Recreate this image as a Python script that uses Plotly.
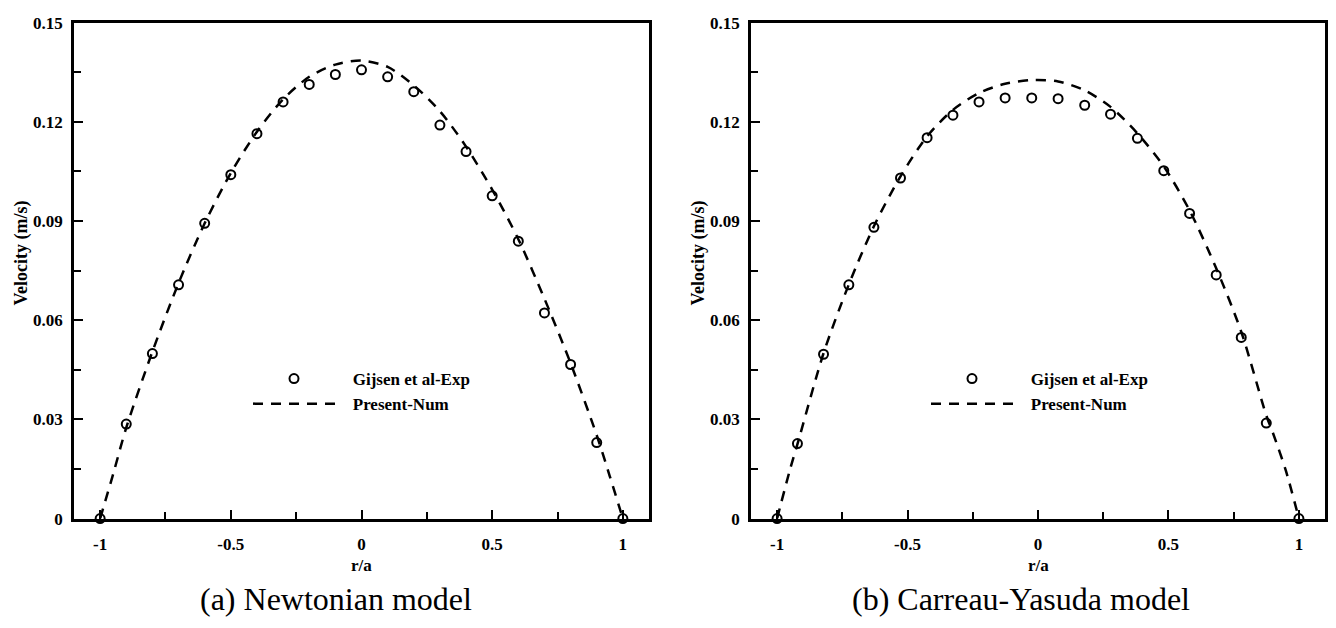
import plotly.graph_objects as go

# ---------------- data ----------------
# (a) Newtonian model
exp_a_r = [-1.0, -0.9, -0.8, -0.7, -0.6, -0.5, -0.4, -0.3, -0.2, -0.1, 0.0,
           0.1, 0.2, 0.3, 0.4, 0.5, 0.6, 0.7, 0.8, 0.9, 1.0]
exp_a_v = [0.0, 0.0286, 0.0499, 0.0707, 0.0893, 0.1040, 0.1164, 0.1260, 0.1313, 0.1343, 0.1357,
           0.1336, 0.1291, 0.1190, 0.1110, 0.0976, 0.0839, 0.0622, 0.0466, 0.0230, 0.0]
num_a_r = [-1.0, -0.95, -0.9, -0.8, -0.7, -0.6, -0.5, -0.4, -0.3, -0.2, -0.1, 0.0,
           0.1, 0.2, 0.3, 0.4, 0.5, 0.6, 0.7, 0.8, 0.9, 0.95, 1.0]
num_a_v = [0.0, 0.0135, 0.0275, 0.0505, 0.0712, 0.0893, 0.1045, 0.1170, 0.1268, 0.1336, 0.1373, 0.1385,
           0.1366, 0.1310, 0.1232, 0.1125, 0.0995, 0.0845, 0.0665, 0.0470, 0.0252, 0.0128, 0.0]

# (b) Carreau-Yasuda model
exp_b_r = [-1.0, -0.922, -0.822, -0.725, -0.629, -0.527, -0.425, -0.326, -0.226, -0.126, -0.024,
           0.077, 0.179, 0.278, 0.381, 0.482, 0.581, 0.683, 0.779, 0.875, 1.0]
exp_b_v = [0.0, 0.0227, 0.0497, 0.0707, 0.0881, 0.1030, 0.1152, 0.1220, 0.1260, 0.1272, 0.1272,
           0.1270, 0.1250, 0.1223, 0.1150, 0.1052, 0.0923, 0.0737, 0.0548, 0.0289, 0.0]
num_b_r = [-1.0, -0.95, -0.922, -0.822, -0.725, -0.629, -0.527, -0.425, -0.326, -0.226, -0.126, -0.024,
           0.077, 0.179, 0.278, 0.381, 0.482, 0.581, 0.683, 0.779, 0.875, 0.9, 0.95, 1.0]
num_b_v = [0.0, 0.0150, 0.0225, 0.0500, 0.0708, 0.0884, 0.1035, 0.1156, 0.1236, 0.1287, 0.1315, 0.1326,
           0.1322, 0.1295, 0.1245, 0.1165, 0.1065, 0.0932, 0.0757, 0.0565, 0.0312, 0.0260, 0.0145, 0.0]

x_tickvals = [-1, -0.5, 0, 0.5, 1]
x_ticktext = ["-1", "-0.5", "0", "0.5", "1"]
y_tickvals = [0, 0.03, 0.06, 0.09, 0.12, 0.15]
y_ticktext = ["0", "0.03", "0.06", "0.09", "0.12", "0.15"]

exp_name = "Gijsen et al-Exp"
num_name = "Present-Num"
captions = ["(a) Newtonian model", "(b) Carreau-Yasuda model"]
x_title = "r/a"
y_title = "Velocity (m/s)"

# ---------------- figure ----------------
W, H = 1336, 628
SERIF = "Liberation Serif, serif"
pad = "\u00a0\u00a0\u00a0"

fig = go.Figure()

panels = [
    (exp_a_r, exp_a_v, num_a_r, num_a_v, "x", "y", "legend"),
    (exp_b_r, exp_b_v, num_b_r, num_b_v, "x2", "y2", "legend2"),
]
for er, ev, nr, nv, xa, ya, lg in panels:
    fig.add_trace(go.Scatter(
        x=nr, y=nv, mode="lines", name=pad + num_name, xaxis=xa, yaxis=ya,
        line=dict(color="black", width=2.5, dash="10px,8px", shape="spline", smoothing=0.8),
        legend=lg, legendrank=2, cliponaxis=True))
    fig.add_trace(go.Scatter(
        x=er, y=ev, mode="markers", name=pad + exp_name, xaxis=xa, yaxis=ya,
        marker=dict(symbol="circle-open", size=9, color="black", line=dict(width=2, color="black")),
        legend=lg, legendrank=1, cliponaxis=False))

dom_y = [1 - 525.5 / H, 1 - 14 / H]
dom_x1 = [74 / W, 649 / W]
dom_x2 = [751 / W, 1325 / W]

tickfont = dict(family=SERIF, size=17, color="black", weight="bold")

def xaxis(domain, anchor):
    return dict(domain=domain, anchor=anchor, range=[-1.1, 1.1],
                tickmode="array", tickvals=x_tickvals, ticktext=x_ticktext,
                ticks="inside", ticklen=9, tickwidth=2, tickcolor="black",
                minor=dict(tickmode="linear", tick0=0, dtick=0.25, ticks="inside",
                           ticklen=7, tickwidth=2, tickcolor="black"),
                showline=True, linecolor="black", linewidth=2.5, mirror=True,
                ticklabelstandoff=8,
                showgrid=False, zeroline=False, tickfont=tickfont, fixedrange=True)

def yaxis(domain, anchor):
    return dict(domain=domain, anchor=anchor, range=[0, 0.15],
                tickmode="array", tickvals=y_tickvals, ticktext=y_ticktext,
                ticks="inside", ticklen=9, tickwidth=2, tickcolor="black",
                minor=dict(tickmode="linear", tick0=0, dtick=0.015, ticks="inside",
                           ticklen=7, tickwidth=2, tickcolor="black"),
                showline=True, linecolor="black", linewidth=2.5, mirror=True,
                ticklabelstandoff=5,
                showgrid=False, zeroline=False, tickfont=tickfont, fixedrange=True)

legfont = dict(family=SERIF, size=17, color="black", weight="bold")

fig.update_layout(
    width=W, height=H,
    margin=dict(l=0, r=0, t=0, b=0),
    paper_bgcolor="white", plot_bgcolor="white",
    xaxis=xaxis(dom_x1, "y"), yaxis=yaxis(dom_y, "x"),
    xaxis2=xaxis(dom_x2, "y2"), yaxis2=yaxis(dom_y, "x2"),
    legend=dict(x=248 / W, y=1 - 363 / H, xanchor="left", yanchor="top",
                bgcolor="rgba(0,0,0,0)", font=legfont, itemwidth=82,
                traceorder="normal"),
    legend2=dict(x=926 / W, y=1 - 363 / H, xanchor="left", yanchor="top",
                 bgcolor="rgba(0,0,0,0)", font=legfont, itemwidth=82,
                 traceorder="normal"),
    showlegend=True,
)

ann = []
for cx, cap in zip([336, 1021], captions):
    ann.append(dict(x=cx / W, y=1 - 608 / H, xref="paper", yref="paper", text=cap,
                    showarrow=False, xanchor="center", yanchor="middle",
                    font=dict(family=SERIF, size=32, color="black")))
for cx in [361.7, 1038.3]:
    ann.append(dict(x=cx / W, y=1 - 574 / H, xref="paper", yref="paper", text=x_title,
                    showarrow=False, xanchor="center", yanchor="middle",
                    font=dict(family=SERIF, size=17, color="black", weight="bold")))
for cx in [21, 698]:
    ann.append(dict(x=cx / W, y=1 - 252 / H, xref="paper", yref="paper", text=y_title,
                    showarrow=False, xanchor="center", yanchor="middle", textangle=-90,
                    font=dict(family=SERIF, size=18, color="black", weight="bold")))
fig.update_layout(annotations=ann)

fig.write_html("out.html")
